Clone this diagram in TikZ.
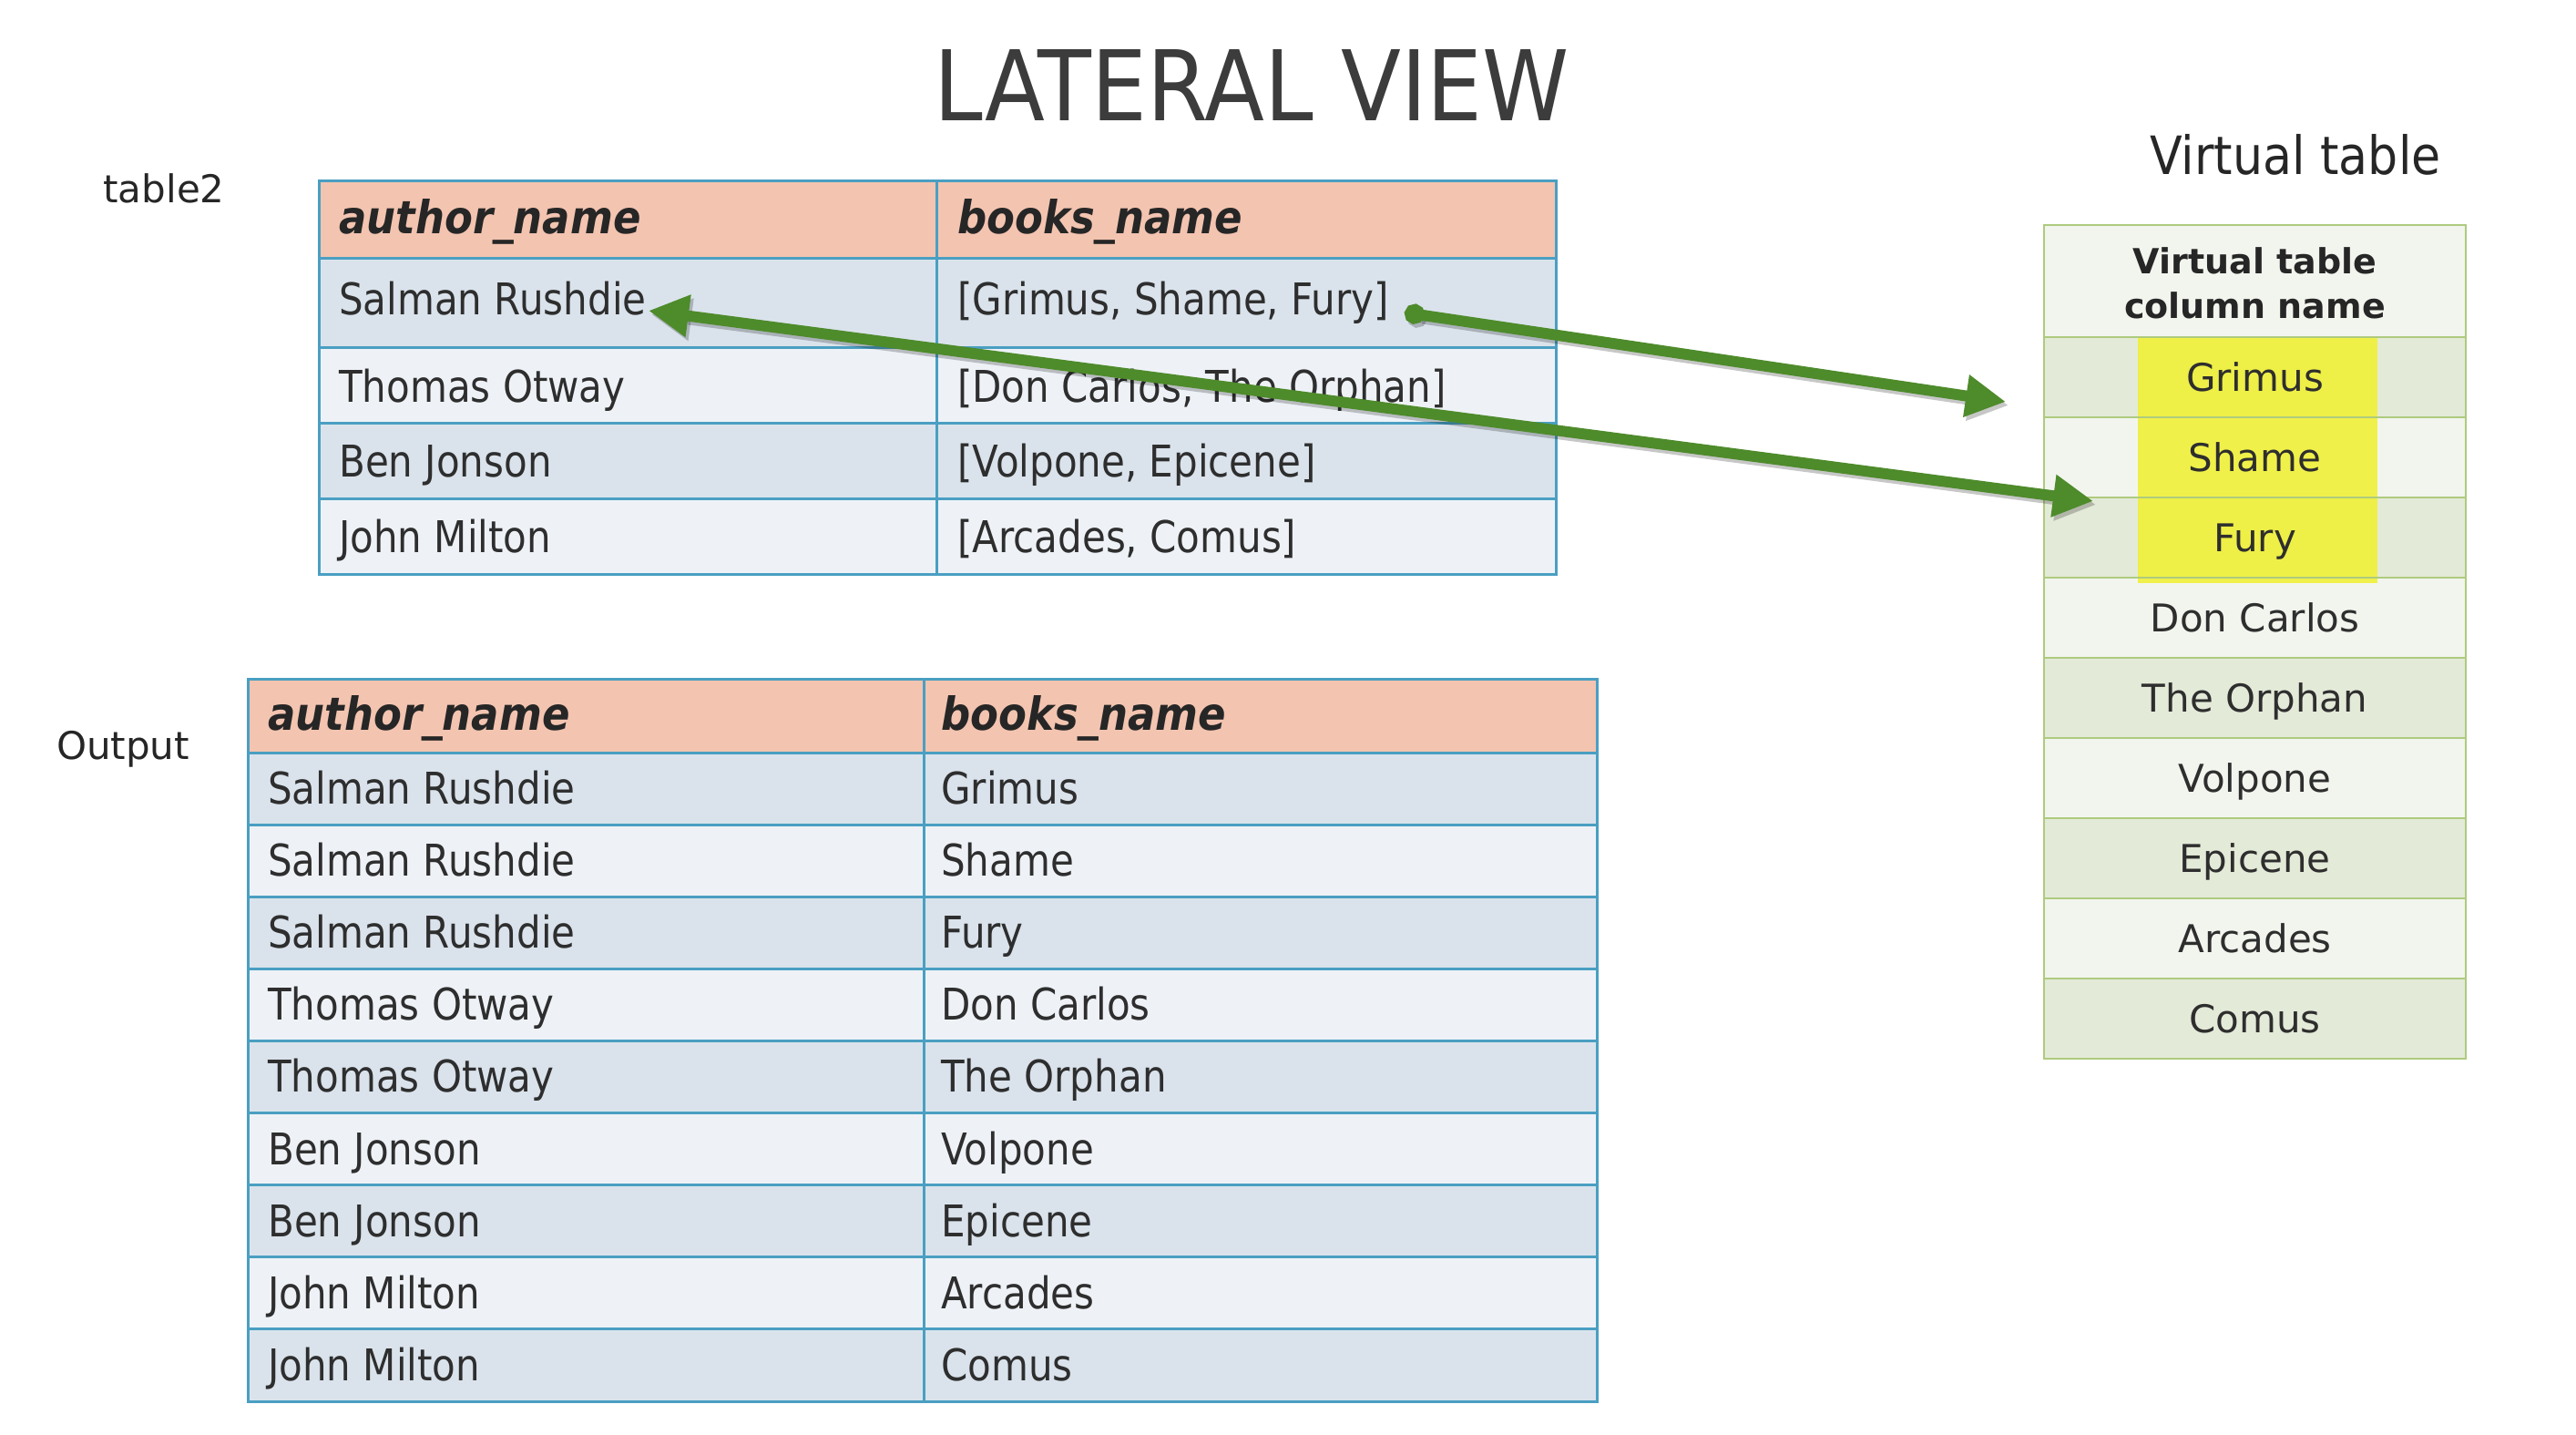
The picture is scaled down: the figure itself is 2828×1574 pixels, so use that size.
\documentclass[tikz,border=0pt]{standalone}
\usepackage{fontspec}
\setmainfont{DejaVu Sans}
\newfontfamily\tabfont[FakeStretch=0.875]{DejaVu Sans}
\newfontfamily\hdrfont[FakeStretch=0.9]{DejaVu Sans}
\newfontfamily\ttlfont[FakeStretch=0.9]{DejaVu Sans}
\usetikzlibrary{arrows.meta}
\definecolor{hdr}{HTML}{F3C4B0}
\definecolor{rowD}{HTML}{DAE3EC}
\definecolor{rowL}{HTML}{EEF2F7}
\definecolor{tline}{HTML}{4A9FC2}
\definecolor{vline}{HTML}{AECB7E}
\definecolor{vD}{HTML}{E3EAD8}
\definecolor{vL}{HTML}{F2F5EE}
\definecolor{hilite}{HTML}{F0F034}
\definecolor{agreen}{HTML}{4E8B2B}
\definecolor{txt}{HTML}{2E2E2E}
\definecolor{ttl}{HTML}{3C3C3C}
\begin{document}
\begin{tikzpicture}[x=1pt,y=-1pt,
  tl/.style={draw=tline,line width=3pt},
  vl/.style={draw=vline,line width=2.5pt},
  tcell/.style={anchor=base west,inner sep=0pt,text=txt,font=\tabfont\fontsize{48}{56}\selectfont},
  thdr/.style={anchor=base west,inner sep=0pt,text=black!85,font=\hdrfont\bfseries\itshape\fontsize{50}{58}\selectfont},
  vcell/.style={anchor=base,inner sep=0pt,text=txt,font=\fontsize{42}{50}\selectfont},
  lbl/.style={anchor=base,inner sep=0pt,text=black!85,font=\fontsize{42}{50}\selectfont},
  tipT/.tip={Triangle[length=44pt,width=44pt]},
  tipC/.tip={Circle[length=22pt]},
  garrow/.style={draw=agreen,line width=12pt},
  gshadow/.style={draw=black,line width=12pt,opacity=0.22}
]
\useasboundingbox (0,0) rectangle (2828,1574);
\fill[white] (0,0) rectangle (2828,1574);

% Title and labels
\node[anchor=base,inner sep=0pt,text=ttl,font=\ttlfont\fontsize{107}{120}\selectfont] (title) at (1374,132) {LATERAL VIEW};
\node[lbl] (lt2) at (180,222) {table2};
\node[lbl] (lout) at (135,833) {Output};
\node[anchor=base,inner sep=0pt,text=black!85,font=\ttlfont\fontsize{58}{66}\selectfont] (lvt) at (2520,191) {Virtual table};

% ---------- table2 ----------
\fill[hdr]  (350,198) rectangle (1708,283);
\fill[rowD] (350,283) rectangle (1708,381);
\fill[rowL] (350,381) rectangle (1708,464);
\fill[rowD] (350,464) rectangle (1708,547);
\fill[rowL] (350,547) rectangle (1708,630);
\foreach \yy in {283,381,464,547} \draw[tl] (350,\yy) -- (1708,\yy);
\draw[tl] (1028,198) -- (1028,630);
\draw[tl] (350,198) rectangle (1708,630);
\node[thdr] (t2h1) at (372,256) {author\_name};
\node[thdr] (t2h2) at (1051,256) {books\_name};
\node[tcell] (t2a1) at (372,345) {Salman Rushdie};
\node[tcell] (t2b1) at (1051,345) {[Grimus, Shame, Fury]};
\node[tcell] (t2a2) at (372,441) {Thomas Otway};
\node[tcell] (t2b2) at (1051,441) {[Don Carlos, The Orphan]};
\node[tcell] (t2a3) at (372,523) {Ben Jonson};
\node[tcell] (t2b3) at (1051,523) {[Volpone, Epicene]};
\node[tcell] (t2a4) at (372,606) {John Milton};
\node[tcell] (t2b4) at (1051,606) {[Arcades, Comus]};

% ---------- output table ----------
\fill[hdr] (272,745) rectangle (1753,826);
\foreach \i in {1,...,9}{
  \pgfmathsetmacro\yt{826+(\i-1)*79.1}
  \pgfmathsetmacro\yb{826+\i*79.1}
  \ifodd\i \fill[rowD] (272,\yt) rectangle (1753,\yb); \else \fill[rowL] (272,\yt) rectangle (1753,\yb); \fi
}
\foreach \k in {0,...,8}{
  \pgfmathsetmacro\yy{826+\k*79.1}
  \draw[tl] (272,\yy) -- (1753,\yy);
}
\draw[tl] (1014,745) -- (1014,1538);
\draw[tl] (272,745) rectangle (1753,1538);
\node[thdr] (oh1) at (294,801) {author\_name};
\node[thdr] (oh2) at (1033,801) {books\_name};
\foreach \a/\b [count=\i] in {Salman Rushdie/Grimus, Salman Rushdie/Shame, Salman Rushdie/Fury,
  Thomas Otway/Don Carlos, Thomas Otway/The Orphan, Ben Jonson/Volpone, Ben Jonson/Epicene,
  John Milton/Arcades, John Milton/Comus}{
  \pgfmathsetmacro\yc{826+(\i-0.5)*79.1+17}
  \node[tcell] (oa\i) at (294,\yc) {\a};
  \node[tcell] (ob\i) at (1033,\yc) {\b};
}

% ---------- virtual table ----------
\fill[vL] (2244,247) rectangle (2707,370);
\foreach \i in {1,...,9}{
  \pgfmathsetmacro\yt{370+(\i-1)*88}
  \pgfmathsetmacro\yb{370+\i*88}
  \ifodd\i \fill[vD] (2244,\yt) rectangle (2707,\yb); \else \fill[vL] (2244,\yt) rectangle (2707,\yb); \fi
}
\fill[hilite,opacity=0.88] (2347,370) rectangle (2610,640);
\foreach \k in {0,...,8}{
  \pgfmathsetmacro\yy{370+\k*88}
  \draw[vl] (2244,\yy) -- (2707,\yy);
}
\draw[vl] (2244,247) rectangle (2707,1162);
\node[anchor=center,inner sep=0pt,align=center,text=black!85,font=\bfseries\fontsize{38}{49}\selectfont] (vth) at (2475.5,311) {Virtual table\\column name};
\foreach \w [count=\i] in {Grimus,Shame,Fury,Don Carlos,The Orphan,Volpone,Epicene,Arcades,Comus}{
  \pgfmathsetmacro\yc{370+(\i-0.5)*88+15}
  \node[vcell] (v\i) at (2475.5,\yc) {\w};
}

% ---------- arrows ----------
\coordinate (a1s) at (1542,343);
\coordinate (a1e) at (2202,441);
\coordinate (a2s) at (712,341);
\coordinate (a2e) at (2298,550);
\begin{scope}[transform canvas={shift={(3pt,-4pt)}}]
  \draw[gshadow,tipC-tipT] (a1s) -- (a1e);
  \draw[gshadow,tipT-tipT] (a2s) -- (a2e);
\end{scope}
\draw[garrow,tipC-tipT] (a1s) -- (a1e);
\draw[garrow,tipT-tipT] (a2s) -- (a2e);
\end{tikzpicture}
\end{document}
